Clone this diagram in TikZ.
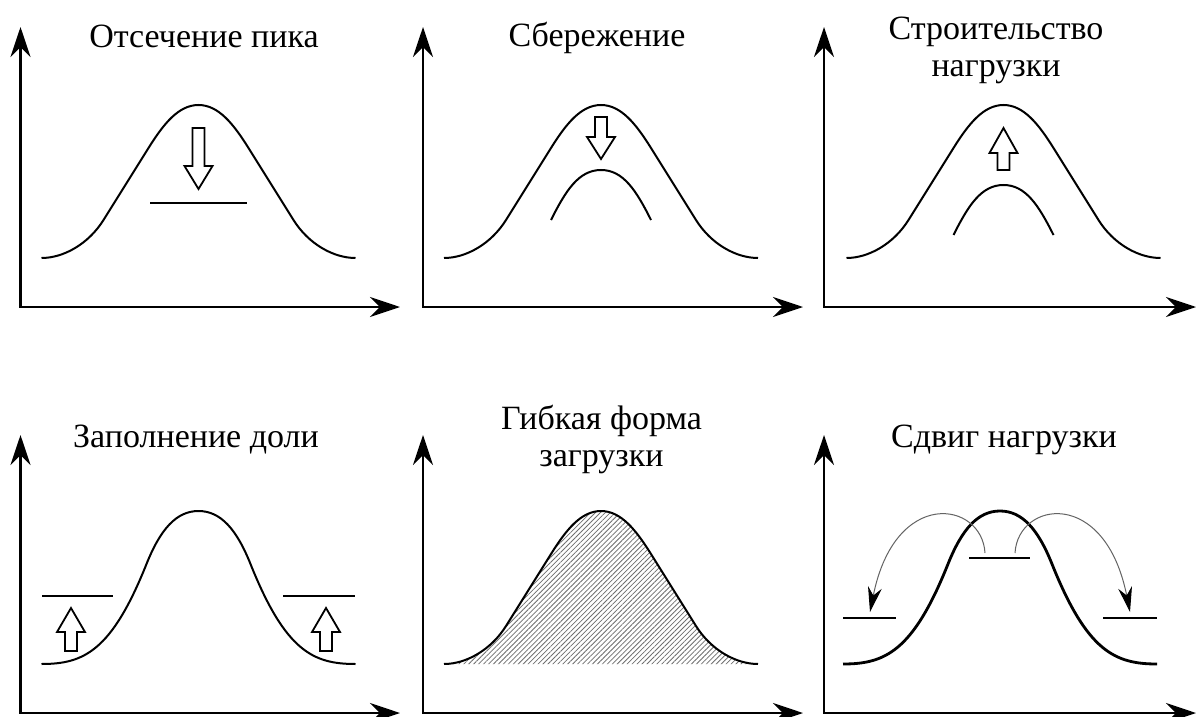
\documentclass[tikz,border=0pt]{standalone}
\usepackage{xcolor}
\usepackage{fontspec}
\setmainfont{Liberation Serif}
\usepackage{tikz}
\usetikzlibrary{arrows.meta, patterns.meta}
\definecolor{hatchgrey}{RGB}{110,110,110}
\definecolor{shiftgrey}{RGB}{100,100,100}

\newcommand{\fatarrow}[4]{%
  \draw[blockline] ({#1-6},#2) -- ({#1-6},#3) -- ({#1-14},#3) -- (#1,#4)
    -- ({#1+14},#3) -- ({#1+6},#3) -- ({#1+6},#2) -- cycle;}

\tikzset{
  axtip/.tip={Stealth[length=30pt, width=20pt]},
  shifttip/.tip={Stealth[length=25pt, width=14pt, color=black]},
  widebell/.pic={
    \draw[pic actions] (-157,0) .. controls (-135,0) and (-110,-14) .. (-95,-38)
      -- (-50,-110) .. controls (-35,-134) and (-20,-153) .. (0,-153)
      .. controls (20,-153) and (35,-134) .. (50,-110)
      -- (95,-38) .. controls (110,-14) and (135,0) .. (157,0);
  },
  narrowbell/.pic={
    \draw[pic actions] (-157,0) .. controls (-115,0) and (-87,-12.5) .. (-52,-100)
      .. controls (-38,-135) and (-22,-153) .. (0,-153)
      .. controls (22,-153) and (38,-135) .. (52,-100)
      .. controls (87,-12.5) and (115,0) .. (157,0);
  },
  smallarc/.pic={
    \draw[pic actions] (-50,0) .. controls (-35,-30) and (-22,-50) .. (0,-50)
      .. controls (22,-50) and (35,-30) .. (50,0);
  }
}

\begin{document}
\begin{tikzpicture}[
    x=1pt, y=-1pt,
    axis/.style={line width=2.4pt, axtip-axtip},
    curve/.style={line width=2pt},
    shiftcurve/.style={line width=2.8pt},
    level/.style={line width=2pt},
    shiftlevel/.style={line width=2.5pt},
    blockline/.style={line width=1.8pt, line join=miter},
    hatched/.style={pattern={Lines[angle=45, distance=3.5pt, line width=0.8pt]}, pattern color=hatchgrey},
    shiftarrow/.style={shiftgrey, line width=1pt, -shifttip},
    title/.style={font=\fontsize{34}{37}\selectfont, align=center, anchor=base, inner sep=0pt}
]
    \path[use as bounding box, fill=white] (0,0) rectangle (1197,717);

    \foreach \x/\tipx in {20.5/400, 423/803, 824/1196} {
        \draw[axis] (\x,27) -- (\x,307) -- (\tipx,307);
        \draw[axis] (\x,435) -- (\x,713) -- (\tipx,713);
    }

    \node[title] (peakclip) at (204,48) {Отсечение пика};
    \node[title] (conserve) at (597,47) {Сбережение};
    \node[title] (growth) at (996,76.5) {Строительство\\нагрузки};
    \node[title] (valley) at (196,447) {Заполнение доли};
    \node[title] (flexible) at (601.5,466) {Гибкая форма\\загрузки};
    \node[title] (loadshift) at (1004,447) {Сдвиг нагрузки};

    \pic[curve] at (198.5,258) {widebell};
    \draw[level] (150,203) -- (247,203);
    \fatarrow{198.5}{128}{166}{189}

    \pic[curve] at (601,258) {widebell};
    \pic[curve] at (601,220) {smallarc};
    \fatarrow{601}{117}{137}{159}

    \pic[curve] at (1003.5,258) {widebell};
    \pic[curve] at (1003.5,235) {smallarc};
    \fatarrow{1003.5}{170}{153}{128}

    \pic[curve] at (198.5,664) {narrowbell};
    \draw[level] (42,596) -- (113,596);
    \draw[level] (283,596) -- (355,596);
    \fatarrow{71}{651}{632}{608}
    \fatarrow{326}{651}{632}{608}

    \pic[curve, hatched] at (601,664) {widebell};

    \pic[shiftcurve] at (1000,664) {narrowbell};
    \draw[shiftlevel] (969,558) -- (1030,558);
    \draw[shiftlevel] (843,618) -- (896,618);
    \draw[shiftlevel] (1103,618) -- (1157,618);
    \coordinate (fromL) at (985,553);
    \coordinate (toL) at (870,612);
    \coordinate (fromR) at (1015,553);
    \coordinate (toR) at (1130,612);
    \draw[shiftarrow] (fromL) .. controls +(-3,-52) and +(25,-125) .. (toL);
    \draw[shiftarrow] (fromR) .. controls +(3,-52) and +(-25,-125) .. (toR);
\end{tikzpicture}
\end{document}
